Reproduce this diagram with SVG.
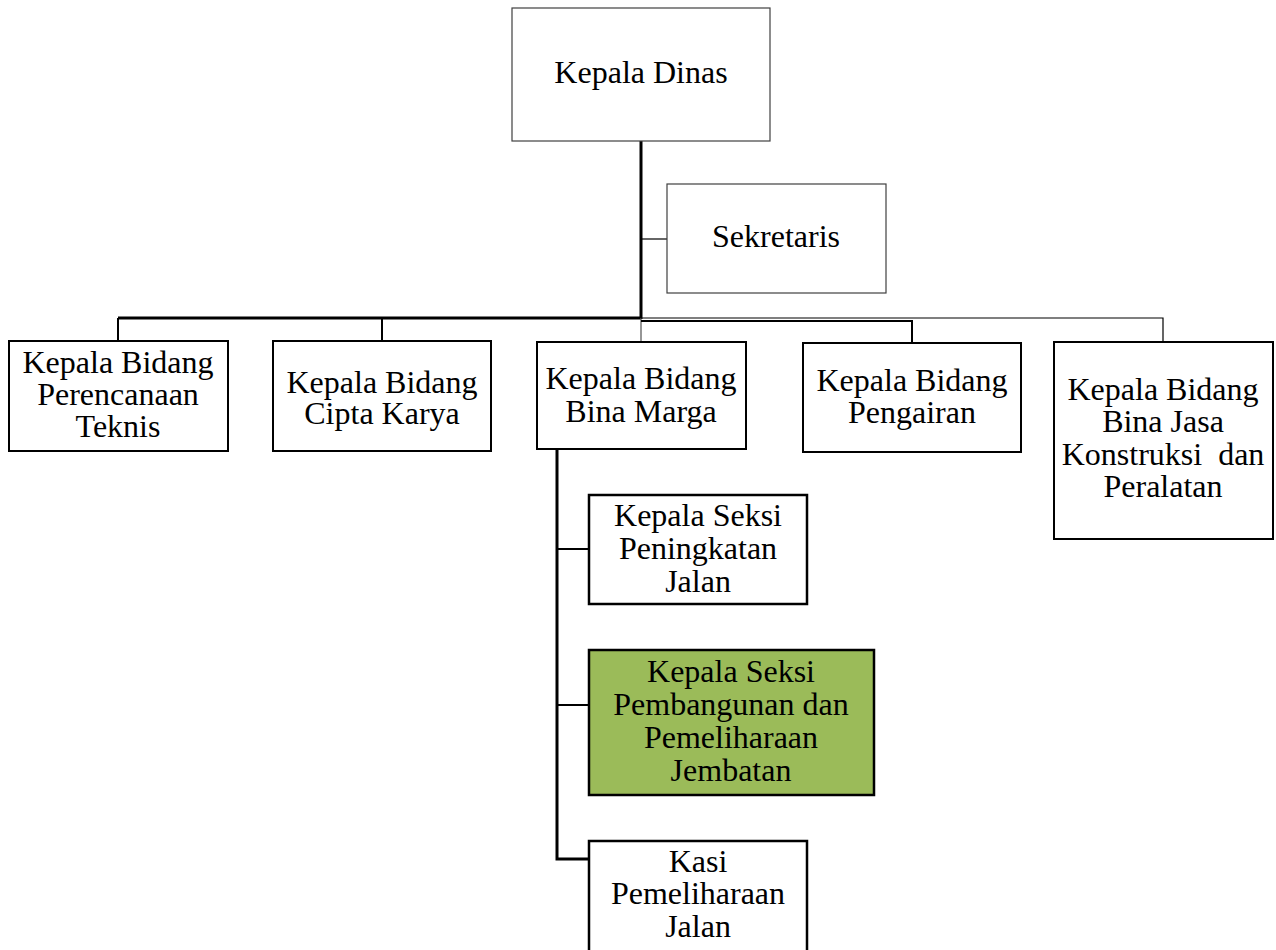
<svg xmlns="http://www.w3.org/2000/svg" width="1276" height="950" viewBox="0 0 1276 950">
  <style>
    .box { fill: #ffffff; stroke: #000000; stroke-width: 2; }
    .thin { fill: #ffffff; stroke: #404040; stroke-width: 1.2; }
    .hl { fill: #9bbb59; stroke: #000000; stroke-width: 2.5; }
    .sub { fill: #ffffff; stroke: #000000; stroke-width: 2.5; }
    .c { fill: none; stroke: #000000; }
    .w3 { stroke-width: 3; }
    .w2 { stroke-width: 2; }
    .w1 { stroke-width: 1.2; }
    .g1 { stroke: #505050; stroke-width: 1.2; }
  </style>

  <!-- connectors -->
  <g id="connectors">
    <path class="c w3" d="M641 141 V319"/>
    <path class="c w1" d="M641 239 H667"/>
    <path class="c w3" d="M118 318 H641"/>
    <path class="c w2" d="M118 318 V341"/>
    <path class="c w2" d="M382 318 V341"/>
    <path class="c g1" d="M641 318 V342"/>
    <path class="c w1" d="M641 318 H1163 V342"/>
    <path class="c w2" d="M641 321 H912 V343"/>
    <path class="c w3" d="M557 449 V859 H589"/>
    <path class="c w2" d="M557 549 H589"/>
    <path class="c w2" d="M557 705 H589"/>
  </g>

  <g font-family="Liberation Serif, Times New Roman, serif" font-size="32" fill="#000000" text-anchor="middle">
    <g id="kepala-dinas">
      <rect class="thin" x="512" y="8" width="258" height="133"/>
      <text x="641" y="83">Kepala Dinas</text>
    </g>

    <g id="sekretaris">
      <rect class="thin" x="667" y="184" width="219" height="109"/>
      <text x="776" y="247">Sekretaris</text>
    </g>

    <g id="bidang-perencanaan">
      <rect class="box" x="9" y="341" width="219" height="110"/>
      <text x="118" y="373">Kepala Bidang</text>
      <text x="118" y="405">Perencanaan</text>
      <text x="118" y="437">Teknis</text>
    </g>

    <g id="bidang-cipta-karya">
      <rect class="box" x="273" y="341" width="218" height="110"/>
      <text x="382" y="393">Kepala Bidang</text>
      <text x="382" y="424">Cipta Karya</text>
    </g>

    <g id="bidang-bina-marga">
      <rect class="box" x="537" y="342" width="209" height="107"/>
      <text x="641" y="389">Kepala Bidang</text>
      <text x="641" y="422">Bina Marga</text>
    </g>

    <g id="bidang-pengairan">
      <rect class="box" x="803" y="343" width="218" height="109"/>
      <text x="912" y="391">Kepala Bidang</text>
      <text x="912" y="423">Pengairan</text>
    </g>

    <g id="bidang-bina-jasa">
      <rect class="box" x="1054" y="342" width="219" height="197"/>
      <text x="1163" y="400">Kepala Bidang</text>
      <text x="1163" y="432">Bina Jasa</text>
      <text x="1163" y="465" xml:space="preserve">Konstruksi  dan</text>
      <text x="1163" y="497">Peralatan</text>
    </g>

    <g id="seksi-peningkatan">
      <rect class="sub" x="589" y="495" width="218" height="109"/>
      <text x="698" y="526">Kepala Seksi</text>
      <text x="698" y="559">Peningkatan</text>
      <text x="698" y="592">Jalan</text>
    </g>

    <g id="seksi-pembangunan">
      <rect class="hl" x="589" y="650" width="285" height="145"/>
      <text x="731" y="682">Kepala Seksi</text>
      <text x="731" y="715">Pembangunan dan</text>
      <text x="731" y="748">Pemeliharaan</text>
      <text x="731" y="781">Jembatan</text>
    </g>

    <g id="kasi-pemeliharaan">
      <rect class="sub" x="589" y="841" width="218" height="115"/>
      <text x="698" y="872">Kasi</text>
      <text x="698" y="904">Pemeliharaan</text>
      <text x="698" y="937">Jalan</text>
    </g>
  </g>
</svg>
